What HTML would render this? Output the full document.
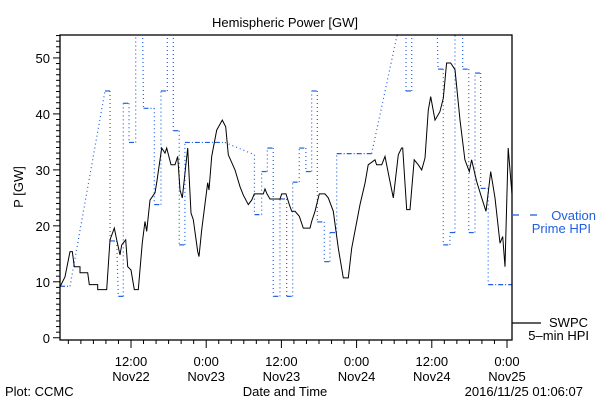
<!DOCTYPE html>
<html><head><meta charset="utf-8"><style>
html,body{margin:0;padding:0;background:#fff}
svg{display:block}
text{font-family:"Liberation Sans",sans-serif;font-size:13px;fill:#000}
</style></head><body>
<svg id="chart" width="600" height="400" viewBox="0 0 600 400">
<text x="285" y="27" text-anchor="middle" font-size="15">Hemispheric Power [GW]</text>
<text transform="translate(23,187) rotate(-90)" text-anchor="middle">P [GW]</text>
<text x="285" y="396" text-anchor="middle">Date and Time</text>
<text x="5" y="396">Plot: CCMC</text>
<text x="583" y="396" text-anchor="end">2016/11/25 01:06:07</text>
<g id="axes"></g>
<g id="series"></g>
<rect x="60" y="35" width="452" height="305" fill="none" stroke="#000" stroke-width="1.3"/>
<g>
<line x1="512" y1="215" x2="519" y2="215" stroke="#2060e0" stroke-width="1.3"/>
<line x1="530" y1="215" x2="537" y2="215" stroke="#2060e0" stroke-width="1.3"/>
<text x="596" y="220" text-anchor="end" style="fill:#2060e0">Ovation</text>
<text x="591" y="233" text-anchor="end" style="fill:#2060e0">Prime HPI</text>
</g>
<g>
<line x1="512" y1="323" x2="541" y2="323" stroke="#000" stroke-width="1.3"/>
<text x="588" y="327" text-anchor="end">SWPC</text>
<text x="589" y="340" text-anchor="end">5–min HPI</text>
</g>
</svg>
<script>
// time in hours since 2016-11-22 00:00 UT
const yTicks=[0,10,20,30,40,50];
const xTickHours=[12,24,36,48,60,72];
const xTickTimes=["12:00","0:00","12:00","0:00","12:00","0:00"];
const xTickDates=["Nov22","Nov23","Nov23","Nov24","Nov24","Nov25"];
const swpcT=[0.72,1.47,2.27,2.63,2.95,3.86,3.86,5.09,5.35,6.69,6.69,8.12,8.65,9.33,9.72,10.24,10.52,11.15,11.47,12.0,12.53,13.16,13.8,14.23,14.5,15.03,15.83,16.1,16.9,17.42,17.7,18.38,19.02,19.45,19.82,20.19,21.05,21.57,21.94,22.64,22.85,23.28,24.24,24.45,24.88,25.67,26.57,27.11,27.53,28.6,29.39,29.92,30.72,31.26,31.67,33.11,33.38,33.7,34.18,35.77,36.05,36.73,37.26,37.64,38.17,38.85,39.49,40.56,40.83,41.36,42.05,42.96,43.48,44.28,45.08,45.88,46.67,47.22,48.54,49.34,49.86,50.93,51.2,52.0,52.53,53.33,53.86,54.65,55.19,55.35,55.99,56.52,57.2,57.84,58.39,58.91,59.44,59.82,60.51,61.3,61.83,62.37,63.01,63.7,64.5,65.29,65.98,66.36,67.16,67.96,68.65,69.4,70.08,70.88,71.31,71.68,72.2,72.79];
const swpcV=[9.2,10.9,15.4,15.4,12.7,12.7,11.6,11.6,9.5,9.5,8.6,8.6,17.5,19.6,17.5,14.8,16.6,17.5,12.7,12.1,8.6,8.6,17,20.8,19,24.6,25.9,27.7,33.9,33,33.9,30.9,30.9,32.4,26.4,25,33.9,22.3,21.1,15.4,14.5,19.3,27.7,26.4,32.4,37.1,38.9,37.7,32.7,30,27,25.5,23.8,24.6,25.7,25.7,26.6,25.7,24.8,24.8,25.7,25.7,23.8,22.6,22.6,21.7,19.6,19.6,20.8,22.6,25.7,25.7,25,22.6,16,10.7,10.7,16,23.8,27.6,30.9,31.8,30.9,30.9,32.4,27.9,25,32.7,33.9,33.9,22.9,22.9,31.8,30.9,30,32.1,40.7,43.1,38.9,40.4,42.8,49.1,49.1,47.9,38.9,31.8,29.7,31.8,27.9,25,22.6,29.7,25,16.9,18.1,12.7,33.9,25.8];
const ovT=[0.67,2.27,7.85,8.65,8.65,9.72,9.97,10.77,10.77,11.68,11.68,12.75,12.75,13.8,14.0,15.72,15.72,16.78,16.78,17.8,17.8,18.75,18.75,19.7,19.7,20.6,20.6,27.0,31.7,31.7,32.85,32.85,33.76,33.76,34.7,34.7,35.77,35.77,36.84,36.84,37.8,37.8,38.85,38.85,39.9,39.9,40.83,40.83,41.73,41.73,42.84,42.84,43.75,43.75,44.82,44.82,50.4,55.6,55.88,55.88,56.8,56.8,60.75,61.0,61.83,61.83,62.9,62.9,63.7,63.7,64.93,64.93,65.9,65.9,66.9,66.9,67.8,67.8,69.0,69.0,72.8];
const ovV=[9.2,9.2,44.1,44.1,17.3,17.3,7.4,7.4,41.9,41.9,34.9,34.9,60,60,41,41,23.8,23.8,44.1,44.1,60,60,37,37,16.6,16.6,34.9,34.9,32.7,22,22,29.7,29.7,33.9,33.9,7.4,7.4,24.8,24.8,7.4,7.4,27.8,27.8,33.9,33.9,29.7,29.7,44.1,44.1,20.7,20.7,13.6,13.6,18.8,18.8,32.9,32.9,60,60,44.1,44.1,60,60,48,48,16.6,16.6,18.8,18.8,60,60,48,48,18.8,18.8,47.3,47.3,26.7,26.7,9.5,9.5];

const X0=60,X1=512,Y0=340,Y1=35,T0=0.67,T1=72.8,V0=-0.4,V1=54.1;
const xs=t=>X0+(t-T0)/(T1-T0)*(X1-X0);
const ys=v=>Y0-(v-V0)/(V1-V0)*(Y0-Y1);
const NS="http://www.w3.org/2000/svg";
const mk=(tag,attrs,parent)=>{const e=document.createElementNS(NS,tag);for(const k in attrs)e.setAttribute(k,attrs[k]);parent.appendChild(e);return e;};
const axes=document.getElementById('axes'),series=document.getElementById('series');
const defs=mk('defs',{},series);
const cp=mk('clipPath',{id:'clip'},defs);
mk('rect',{x:X0,y:Y1,width:X1-X0,height:Y0-Y1},cp);
for(let v=0;v<=54;v++){
  const major=v%10===0;
  const l=mk('line',{x1:X0-(major?7:4),x2:X0,y1:ys(v),y2:ys(v),stroke:'#000','stroke-width':1},axes);
  
  
}
yTicks.forEach(v=>{
  const t=mk('text',{x:X0-10,y:ys(v)+5,'text-anchor':'end'},axes);
  t.textContent=v;
  
  
});
for(let h=2;h<=72;h+=2){
  const major=h%12===0;
  const l=mk('line',{x1:xs(h),x2:xs(h),y1:Y0,y2:Y0+(major?8:4),stroke:'#000','stroke-width':1},axes);
  
  
}
xTickHours.forEach((h,i)=>{
  const t=mk('text',{x:xs(h),y:366,'text-anchor':'middle'},axes);
  t.textContent=xTickTimes[i];
  
  
  const d=mk('text',{x:xs(h),y:381,'text-anchor':'middle'},axes);
  d.textContent=xTickDates[i];
  
  
});
const og=mk('g',{'clip-path':'url(#clip)'},series);


for(let i=0;i<ovT.length-1;i++){
  const horiz=ovV[i]===ovV[i+1];
  const s=mk('line',{x1:xs(ovT[i]),y1:ys(ovV[i]),x2:xs(ovT[i+1]),y2:ys(ovV[i+1]),stroke:'#2060e0','stroke-width':1.2,'stroke-dasharray':horiz?'5,2,1,2':'1,3'},og);
  
  
}
const pts=swpcT.map((t,i)=>xs(t).toFixed(1)+','+ys(swpcV[i]).toFixed(1)).join(' ');
const pl=mk('polyline',{points:pts,fill:'none',stroke:'#000','stroke-width':1,'clip-path':'url(#clip)'},series);


</script>
</body></html>
